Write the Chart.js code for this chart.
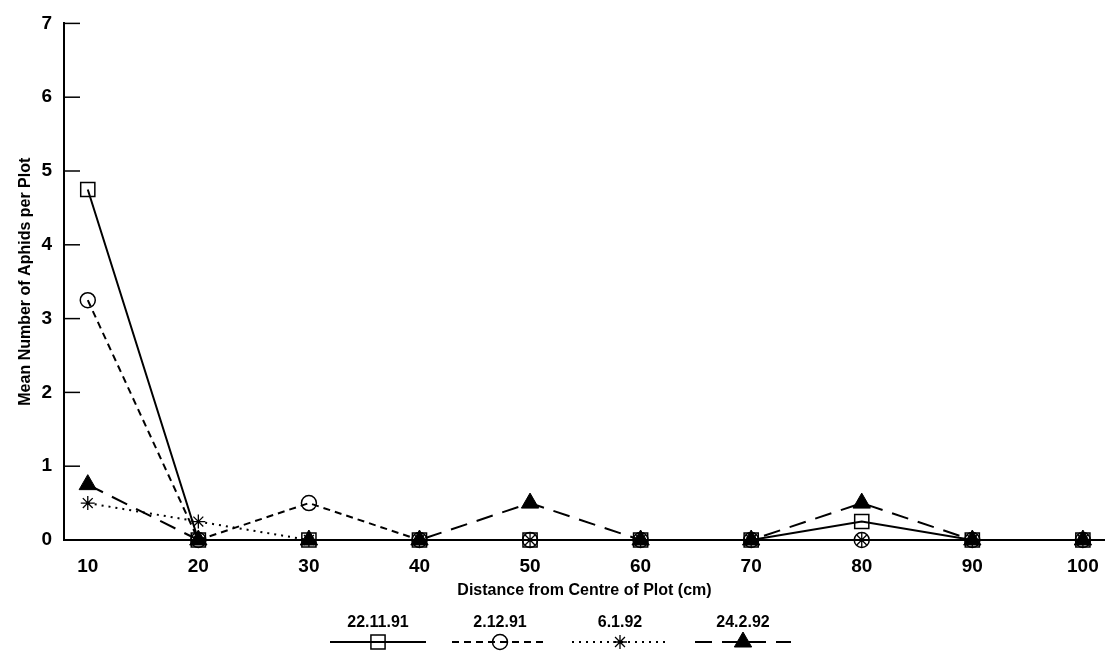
<!DOCTYPE html>
<html>
<head>
<meta charset="utf-8">
<script src="https://cdn.jsdelivr.net/npm/chart.js@4.4.0/dist/chart.umd.min.js"></script>
<style>
  html, body { margin: 0; padding: 0; background: #fff; }
  #wrap { width: 1105px; height: 652px; }
</style>
</head>
<body>
<div id="wrap"><canvas id="myChart" width="1105" height="652"></canvas></div>
<script>
const ctx = document.getElementById('myChart')
const distances = [10, 20, 30, 40, 50, 60, 70, 80, 90, 100]
const yTicks = [0, 1, 2, 3, 4, 5, 6, 7]
const seriesNames = ["22.11.91", "2.12.91", "6.1.92", "24.2.92"]
const nov22 = [4.75, 0, 0, 0, 0, 0, 0, 0.25, 0, 0]
const dec2 = [3.25, 0, 0.5, 0, 0, 0, 0, 0, 0, 0]
const jan6 = [0.5, 0.25, 0, 0, 0, 0, 0, 0, 0, 0]
const feb24 = [0.75, 0, 0, 0, 0.5, 0, 0, 0.5, 0, 0]

const toPoints = arr => arr.map((v, i) => ({x: distances[i], y: v}))

// inside tick marks on the y axis + legend drawn under the x title
const extras = {
    id: 'extras',
    afterDraw(chart) {
        const c = chart.ctx
        const yScale = chart.scales.y
        const left = chart.chartArea.left
        c.save()
        c.strokeStyle = '#000'
        c.lineWidth = 1.5
        yScale.ticks.forEach(t => {
            const py = yScale.getPixelForValue(t.value)
            c.beginPath()
            c.moveTo(left, py)
            c.lineTo(left + 16, py)
            c.stroke()
        })

        const centers = [378, 500, 620, 743]
        const half = 48
        chart.data.datasets.forEach((ds, i) => {
            const cx = centers[i]
            c.fillStyle = '#000'
            c.font = 'bold 16px "Liberation Sans", Arial, sans-serif'
            c.textAlign = 'center'
            c.textBaseline = 'middle'
            c.fillText(ds.label, cx, 623)
            c.setLineDash(ds.borderDash || [])
            c.lineWidth = 2
            c.strokeStyle = '#000'
            c.beginPath()
            c.moveTo(cx - half, 642)
            c.lineTo(cx + half, 642)
            c.stroke()
            c.setLineDash([])
            c.lineWidth = ds.pointBorderWidth
            c.fillStyle = ds.pointBackgroundColor
            Chart.helpers.drawPoint(c, {pointStyle: ds.pointStyle, radius: ds.pointRadius, borderWidth: ds.pointBorderWidth}, cx, 642)
        })
        c.restore()
    }
}

new Chart(ctx, {
    type: 'line',
    data: {
        datasets: [
            {
                label: seriesNames[0],
                data: toPoints(nov22),
                borderColor: '#000',
                borderWidth: 2,
                pointStyle: 'rect',
                pointRadius: 10,
                pointBorderWidth: 1.5,
                pointBorderColor: '#000',
                pointBackgroundColor: 'rgba(255,255,255,0)',
                clip: false
            },
            {
                label: seriesNames[1],
                data: toPoints(dec2),
                borderColor: '#000',
                borderWidth: 2,
                borderDash: [7, 5],
                pointStyle: 'circle',
                pointRadius: 7.5,
                pointBorderWidth: 1.5,
                pointBorderColor: '#000',
                pointBackgroundColor: 'rgba(255,255,255,0)',
                clip: false
            },
            {
                label: seriesNames[2],
                data: toPoints(jan6),
                borderColor: '#000',
                borderWidth: 2,
                borderDash: [2, 5],
                pointStyle: 'star',
                pointRadius: 7,
                pointBorderWidth: 1.3,
                pointBorderColor: '#000',
                pointBackgroundColor: 'rgba(255,255,255,0)',
                clip: false
            },
            {
                label: seriesNames[3],
                data: toPoints(feb24),
                borderColor: '#000',
                borderWidth: 2,
                borderDash: [17, 10],
                pointStyle: 'triangle',
                pointRadius: 10,
                pointBorderWidth: 1,
                pointBorderColor: '#000',
                pointBackgroundColor: '#000',
                clip: false
            }
        ]
    },
    options: {
        responsive: false,
        animation: false,
        layout: { autoPadding: false, padding: { top: 18, right: 0, bottom: 52, left: 0 } },
        plugins: {
            legend: { display: false },
            tooltip: { enabled: false }
        },
        scales: {
            x: {
                type: 'linear',
                min: 7.85,
                max: 102,
                afterBuildTicks: scale => { scale.ticks = distances.map(v => ({value: v})) },
                afterFit: scale => {
                    scale.height = 60
                    scale.paddingLeft = 0
                    scale.paddingRight = 0
                },
                grid: { display: false, drawTicks: false },
                border: { display: true, color: '#000', width: 2 },
                ticks: {
                    color: '#000',
                    padding: 15,
                    maxRotation: 0,
                    autoSkip: false,
                    font: { family: '"Liberation Sans", Arial, sans-serif', size: 19, weight: 'bold' }
                },
                title: {
                    display: true,
                    text: 'Distance from Centre of Plot (cm)',
                    color: '#000',
                    padding: 0,
                    font: { family: '"Liberation Sans", Arial, sans-serif', size: 16, weight: 'bold' }
                }
            },
            y: {
                min: 0,
                max: 7,
                afterBuildTicks: scale => { scale.ticks = yTicks.map(v => ({value: v})) },
                afterFit: scale => { scale.width = 64 },
                grid: { display: false, drawTicks: false },
                border: { display: true, color: '#000', width: 2 },
                ticks: {
                    color: '#000',
                    padding: 12,
                    font: { family: '"Liberation Sans", Arial, sans-serif', size: 19, weight: 'bold' }
                },
                title: {
                    display: true,
                    text: 'Mean Number of Aphids per Plot',
                    color: '#000',
                    padding: { top: 16, bottom: 0 },
                    font: { family: '"Liberation Sans", Arial, sans-serif', size: 16, weight: 'bold' }
                }
            }
        }
    },
    plugins: [extras]
})
</script>
</body>
</html>
